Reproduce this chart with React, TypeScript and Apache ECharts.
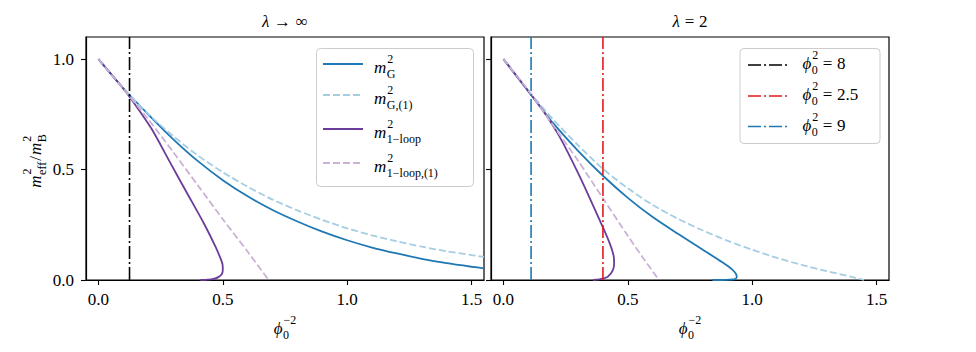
import React, { useEffect, useRef } from 'react';
import * as echarts from 'echarts';

// ---------- data ----------
// left panel: lambda -> infinity
const leftGX = [0, 0.1, 0.2, 0.3, 0.4, 0.5, 0.6, 0.7, 0.8, 0.9, 1.0, 1.1, 1.2, 1.3, 1.4, 1.5, 1.55];
const leftGY = [1.0, 0.868, 0.75, 0.638, 0.538, 0.452, 0.379, 0.317, 0.265, 0.219, 0.18, 0.147, 0.12, 0.096, 0.076, 0.06, 0.053];
const leftG1X = [0, 0.1, 0.2, 0.3, 0.4, 0.5, 0.6, 0.7, 0.8, 0.9, 1.0, 1.1, 1.2, 1.3, 1.4, 1.5, 1.55];
const leftG1Y = [1.0, 0.868, 0.752, 0.652, 0.563, 0.488, 0.422, 0.364, 0.315, 0.272, 0.234, 0.202, 0.175, 0.151, 0.13, 0.113, 0.105];
const leftLoopX = [0, 0.1, 0.15, 0.216, 0.289, 0.356, 0.423, 0.47, 0.49, 0.499, 0.5, 0.495, 0.48, 0.463, 0.44, 0.41];
const leftLoopY = [1.0, 0.866, 0.79, 0.68, 0.53, 0.394, 0.258, 0.152, 0.1, 0.07, 0.045, 0.025, 0.012, 0.005, 0.0015, 0];
const leftLoop1X = [0, 0.1, 0.2, 0.3, 0.4, 0.5, 0.6, 0.684];
const leftLoop1Y = [1.0, 0.866, 0.728, 0.58, 0.428, 0.275, 0.128, 0];

// right panel: lambda = 2
const rightGX = [0, 0.1, 0.2, 0.3, 0.4, 0.5, 0.6, 0.7, 0.8, 0.88, 0.92, 0.935, 0.938, 0.93, 0.9, 0.84];
const rightGY = [1.0, 0.855, 0.71, 0.585, 0.472, 0.372, 0.285, 0.21, 0.138, 0.08, 0.047, 0.027, 0.012, 0.004, 0.001, 0];
const rightG1X = [0, 0.1, 0.2, 0.3, 0.4, 0.5, 0.6, 0.7, 0.8, 0.9, 1.0, 1.1, 1.2, 1.3, 1.35, 1.4, 1.45];
const rightG1Y = [1.0, 0.857, 0.727, 0.61, 0.503, 0.415, 0.34, 0.278, 0.225, 0.178, 0.137, 0.1, 0.068, 0.04, 0.027, 0.014, 0];
const rightLoopX = [0, 0.1, 0.16, 0.225, 0.306, 0.386, 0.427, 0.443, 0.445, 0.44, 0.42, 0.4, 0.386, 0.36];
const rightLoopY = [1.0, 0.855, 0.765, 0.65, 0.47, 0.273, 0.167, 0.11, 0.075, 0.045, 0.015, 0.006, 0.003, 0];
const rightLoop1X = [0, 0.1, 0.225, 0.3, 0.4, 0.5, 0.56, 0.625];
const rightLoop1Y = [1.0, 0.858, 0.66, 0.54, 0.37, 0.2, 0.102, 0];

// vertical markers: phi0^2 values (line at phi0^-2)
const phiLeft = [8];
const phiRight = [2.5, 9];
const phiColors: Record<string, string> = { '8': '#000000', '2.5': '#e31a1c', '9': '#1f78b4' };
const phiLegend = [8, 2.5, 9];

const xTicks = [0, 0.5, 1.0, 1.5];
const yTicks = [0, 0.5, 1.0];

// ---------- styling ----------
const FONT = '"Liberation Serif", "Times New Roman", serif';
const BASE = 17;
const SCRIPT = 12;
const C_BLUE = '#1f78b4';
const C_LBLUE = '#a6cee3';
const C_PURP = '#6a3d9a';
const C_LPURP = '#cab2d6';
const DASH = [7, 3];
const DASHDOT = [13, 3, 2, 3];
const LW = 1.8;

const fontStr = (size: number, italic: boolean) => `${italic ? 'italic ' : ''}${size}px ${FONT}`;

let mctx: CanvasRenderingContext2D | null = null;
function tw(text: string, size: number, italic: boolean): number {
  if (!mctx) mctx = document.createElement('canvas').getContext('2d');
  mctx!.font = fontStr(size, italic);
  return mctx!.measureText(text).width;
}

type Seg = { t?: string; it?: boolean; sup?: string; sub?: string; pad?: number };

function textEl(text: string, x: number, y: number, size: number, italic: boolean) {
  return {
    type: 'text',
    x,
    y,
    silent: true,
    style: {
      text,
      font: fontStr(size, italic),
      fontSize: size,
      fontFamily: FONT,
      fontStyle: italic ? 'italic' : 'normal',
      fill: '#000',
      align: 'left',
      verticalAlign: 'middle',
    },
  };
}

function mathText(segs: Seg[], x0: number, baseline: number, center = false) {
  const pieces: any[] = [];
  let x = 0;
  for (const s of segs) {
    x += s.pad ?? 0;
    if (s.t) {
      pieces.push({ text: s.t, x, y: baseline - 0.3375 * BASE, size: BASE, it: !!s.it });
      x += tw(s.t, BASE, !!s.it);
    }
    let w = 0;
    if (s.sup) {
      pieces.push({ text: s.sup, x: x + 1, y: baseline - 0.6 * BASE - 0.3375 * SCRIPT, size: SCRIPT, it: false });
      w = Math.max(w, tw(s.sup, SCRIPT, false) + 1);
    }
    if (s.sub) {
      pieces.push({ text: s.sub, x: x + 0.5, y: baseline + 0.28 * BASE - 0.3375 * SCRIPT, size: SCRIPT, it: false });
      w = Math.max(w, tw(s.sub, SCRIPT, false) + 0.5);
    }
    x += w;
  }
  const shift = center ? x0 - x / 2 : x0;
  return pieces.map((p) => textEl(p.text, p.x + shift, p.y, p.size, p.it));
}

const zip = (xs: number[], ys: number[]) => xs.map((x, i) => [x, ys[i]]);

function curve(name: string, xs: number[], ys: number[], idx: number, color: string, dashed: boolean) {
  return {
    name,
    type: 'line',
    xAxisIndex: idx,
    yAxisIndex: idx,
    data: zip(xs, ys),
    showSymbol: false,
    symbol: 'none',
    smooth: 0.25,
    silent: true,
    lineStyle: { color, width: LW, type: dashed ? DASH : 'solid' },
    z: 2,
  };
}

function vline(phi2: number, idx: number) {
  const x = 1 / phi2;
  return {
    type: 'line',
    xAxisIndex: idx,
    yAxisIndex: idx,
    data: [
      [x, 0],
      [x, 1.1],
    ],
    showSymbol: false,
    symbol: 'none',
    silent: true,
    lineStyle: { color: phiColors[String(phi2)], width: 1.6, type: DASHDOT },
    z: 3,
  };
}

function makeXAxis(gridIndex: number) {
  return {
    type: 'value',
    gridIndex,
    min: -0.05,
    max: 1.55,
    axisLine: { show: true, onZero: false, lineStyle: { color: '#000', width: 1.2 } },
    axisTick: { show: true, length: 5, customValues: xTicks, lineStyle: { color: '#000', width: 1.1 } },
    axisLabel: {
      show: true,
      customValues: xTicks,
      formatter: (v: number) => v.toFixed(1),
      fontFamily: FONT,
      fontSize: BASE,
      color: '#000',
      margin: 11,
    },
    splitLine: { show: false },
  };
}

function makeYAxis(gridIndex: number, labels: boolean) {
  return {
    type: 'value',
    gridIndex,
    min: 0,
    max: 1.1,
    axisLine: { show: true, onZero: false, lineStyle: { color: '#000', width: 1.2 } },
    axisTick: { show: true, length: 5, customValues: yTicks, lineStyle: { color: '#000', width: 1.1 } },
    axisLabel: {
      show: labels,
      customValues: yTicks,
      formatter: (v: number) => v.toFixed(1),
      fontFamily: FONT,
      fontSize: BASE,
      color: '#000',
      margin: 12,
    },
    splitLine: { show: false },
  };
}

function buildGraphics() {
  const els: any[] = [];
  // titles
  els.push({
    type: 'group',
    children: mathText([{ t: 'λ', it: true }, { t: '→', pad: 4.7 }, { t: '∞', pad: 4.7 }], 285, 27, true),
  });
  els.push({
    type: 'group',
    children: mathText([{ t: 'λ', it: true }, { t: '=', pad: 4.7 }, { t: '2', pad: 4.7 }], 690, 27, true),
  });
  // x axis names
  els.push({ type: 'group', children: mathText([{ t: 'ϕ', it: true, sup: '−2', sub: '0' }], 285, 334, true) });
  els.push({ type: 'group', children: mathText([{ t: 'ϕ', it: true, sup: '−2', sub: '0' }], 690, 334, true) });
  // y axis name (rotated)
  els.push({
    type: 'group',
    x: 41,
    y: 161,
    rotation: Math.PI / 2,
    children: mathText(
      [
        { t: 'm', it: true, sup: '2', sub: 'eff' },
        { t: '/', pad: 1 },
        { t: 'm', it: true, sup: '2', sub: 'B', pad: 1 },
      ],
      0,
      0,
      true
    ),
  });

  // left legend
  const leftRows: { color: string; dashed: boolean; sub: string }[] = [
    { color: C_BLUE, dashed: false, sub: 'G' },
    { color: C_LBLUE, dashed: true, sub: 'G,(1)' },
    { color: C_PURP, dashed: false, sub: '1−loop' },
    { color: C_LPURP, dashed: true, sub: '1−loop,(1)' },
  ];
  const leftRowY = [64, 95, 129, 163];
  const lchildren: any[] = [
    {
      type: 'rect',
      shape: { x: 316.5, y: 48.5, width: 157, height: 138, r: 4 },
      style: { fill: 'rgba(255,255,255,0.8)', stroke: '#cccccc', lineWidth: 1 },
    },
  ];
  leftRows.forEach((r, i) => {
    const y = leftRowY[i];
    lchildren.push({
      type: 'line',
      shape: { x1: 323, y1: y, x2: 363, y2: y },
      style: { stroke: r.color, lineWidth: LW, lineDash: r.dashed ? DASH : null },
    });
    lchildren.push(...mathText([{ t: 'm', it: true, sup: '2', sub: r.sub }], 374, y + 9));
  });
  els.push({ type: 'group', z: 100, children: lchildren });

  // right legend
  const rightRowY = [65, 96, 126.5];
  const rchildren: any[] = [
    {
      type: 'rect',
      shape: { x: 740, y: 48.5, width: 140, height: 95, r: 4 },
      style: { fill: 'rgba(255,255,255,0.8)', stroke: '#cccccc', lineWidth: 1 },
    },
  ];
  phiLegend.forEach((p, i) => {
    const y = rightRowY[i];
    rchildren.push({
      type: 'line',
      shape: { x1: 748, y1: y, x2: 787, y2: y },
      style: { stroke: phiColors[String(p)], lineWidth: 1.6, lineDash: DASHDOT },
    });
    rchildren.push(
      ...mathText(
        [{ t: 'ϕ', it: true, sup: '2', sub: '0' }, { t: '=', pad: 4.5 }, { t: String(p), pad: 4.5 }],
        802.5,
        y + 4.5
      )
    );
  });
  els.push({ type: 'group', z: 100, children: rchildren });
  return els;
}

export default function App() {
  const ref = useRef<HTMLDivElement>(null);
  useEffect(() => {
    if (!ref.current) return;
    const chart = echarts.init(ref.current, undefined, { renderer: 'svg' });
    chart.setOption({
      animation: false,
      backgroundColor: '#ffffff',
      grid: [
        { left: 86, top: 37, width: 398, height: 243, show: true, borderColor: '#000', borderWidth: 1.2, backgroundColor: 'transparent' },
        { left: 491, top: 37, width: 398, height: 243, show: true, borderColor: '#000', borderWidth: 1.2, backgroundColor: 'transparent' },
      ],
      xAxis: [makeXAxis(0), makeXAxis(1)],
      yAxis: [makeYAxis(0, true), makeYAxis(1, false)],
      series: [
        curve('mG', leftGX, leftGY, 0, C_BLUE, false),
        curve('mG1', leftG1X, leftG1Y, 0, C_LBLUE, true),
        curve('mLoop', leftLoopX, leftLoopY, 0, C_PURP, false),
        curve('mLoop1', leftLoop1X, leftLoop1Y, 0, C_LPURP, true),
        ...phiLeft.map((p) => vline(p, 0)),
        curve('mG', rightGX, rightGY, 1, C_BLUE, false),
        curve('mG1', rightG1X, rightG1Y, 1, C_LBLUE, true),
        curve('mLoop', rightLoopX, rightLoopY, 1, C_PURP, false),
        curve('mLoop1', rightLoop1X, rightLoop1Y, 1, C_LPURP, true),
        ...phiRight.map((p) => vline(p, 1)),
      ],
      graphic: buildGraphics(),
    });
    return () => chart.dispose();
  }, []);
  return <div ref={ref} style={{ position: 'absolute', left: 0, top: 0, width: 976, height: 352 }} />;
}
